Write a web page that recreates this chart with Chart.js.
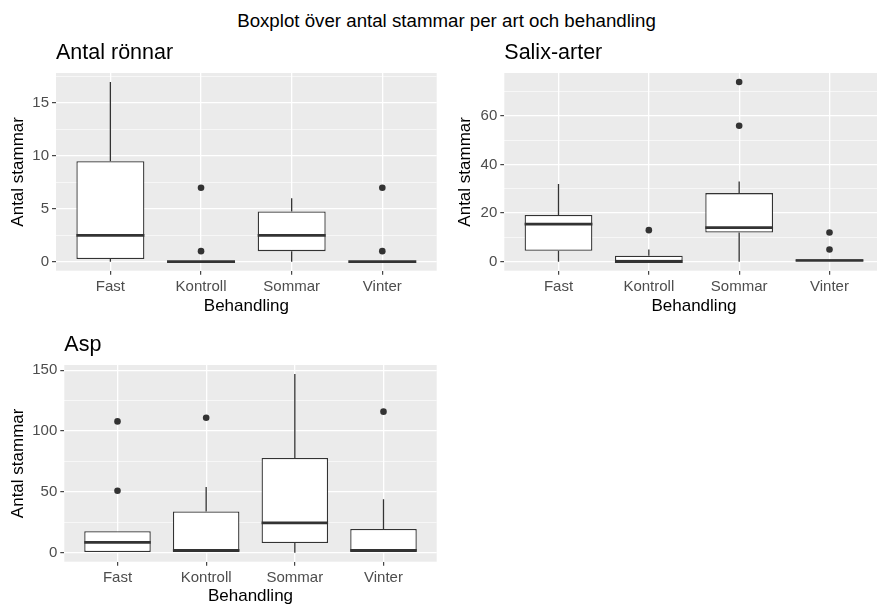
<!DOCTYPE html>
<html lang="sv">
<head>
<meta charset="utf-8">
<title>Boxplot över antal stammar per art och behandling</title>
<script src="https://cdn.jsdelivr.net/npm/chart.js"></script>
<style>
  html, body { margin: 0; padding: 0; background: #fff; width: 877px; height: 608px; overflow: hidden; position: relative;
    font-family: "Liberation Sans", Arial, sans-serif; }
  #mainTitle { position: absolute; left: 0; width: 893px; top: 11px; text-align: center; font-size: 18.7px; line-height: 20px; color: #000; }
  .panel { position: absolute; }
</style>
</head>
<body>
<div id="mainTitle">Boxplot över antal stammar per art och behandling</div>
<canvas id="ronnChart" class="panel" style="left:0;top:36px" width="440" height="281"></canvas>
<canvas id="salixChart" class="panel" style="left:447px;top:36px" width="440" height="281"></canvas>
<canvas id="aspChart" class="panel" style="left:0;top:328px" width="440" height="279"></canvas>

<script>
  // Behandlingar (x-axeln)
  const categories = ['Fast', 'Kontroll', 'Sommar', 'Vinter'];

  // Antal rönnar: nedre morrhår, Q1, median, Q3, övre morrhår, avvikare
  const ronnLow  = [0, 0, 0, 0];
  const ronnQ1   = [0.25, 0, 1, 0];
  const ronnMed  = [2.5, 0, 2.5, 0];
  const ronnQ3   = [9.5, 0, 4.75, 0];
  const ronnHigh = [17, 0, 6, 0];
  const ronnOutCat = [2, 2, 4, 4];
  const ronnOutVal = [7, 1, 7, 1];

  // Salix-arter
  const salixLow  = [0, 0, 0, 0];
  const salixQ1   = [4.5, 0, 12, 0];
  const salixMed  = [15.5, 0, 14, 0.5];
  const salixQ3   = [19.25, 2.5, 28.25, 1];
  const salixHigh = [32, 5, 33, 1];
  const salixOutCat = [2, 3, 3, 4, 4];
  const salixOutVal = [13, 56, 74, 12, 5];

  // Asp
  const aspLow  = [0, 0, 0, 0];
  const aspQ1   = [0, 0, 8, 0];
  const aspMed  = [8.5, 2, 24.5, 2];
  const aspQ3   = [17.75, 34, 78, 19.5];
  const aspHigh = [17.75, 54, 147, 44];
  const aspOutCat = [1, 1, 2, 4];
  const aspOutVal = [108, 51, 111, 116];

  const INK = '#333333';
  const TICK_TEXT = '#4D4D4D';

  // draws panel background, whiskers and medians
  const boxExtras = {
    id: 'boxExtras',
    beforeDraw(chart) {
      const { ctx, chartArea: a } = chart;
      ctx.save();
      ctx.fillStyle = '#EBEBEB';
      ctx.fillRect(a.left, a.top, a.width, a.height);
      ctx.restore();
    },
    beforeDatasetsDraw(chart, args, opts) {
      const { ctx, scales: { x, y } } = chart;
      ctx.save();
      ctx.strokeStyle = INK;
      ctx.lineWidth = 1.3;
      opts.q1.forEach((q1, i) => {
        const px = x.getPixelForValue(i + 1);
        ctx.beginPath();
        ctx.moveTo(px, y.getPixelForValue(opts.q3[i]));
        ctx.lineTo(px, y.getPixelForValue(opts.high[i]));
        ctx.moveTo(px, y.getPixelForValue(q1));
        ctx.lineTo(px, y.getPixelForValue(opts.low[i]));
        ctx.stroke();
      });
      ctx.restore();
    },
    afterDatasetsDraw(chart, args, opts) {
      const { ctx, scales: { y } } = chart;
      const bars = chart.getDatasetMeta(1).data;
      ctx.save();
      ctx.strokeStyle = INK;
      ctx.lineWidth = 2.7;
      opts.med.forEach((m, i) => {
        const b = bars[i];
        const py = y.getPixelForValue(m);
        ctx.beginPath();
        ctx.moveTo(b.x - b.width / 2, py);
        ctx.lineTo(b.x + b.width / 2, py);
        ctx.stroke();
      });
      ctx.restore();
    }
  };

  function makePanel(id, title, low, q1, med, q3, high, outCat, outVal, step, yWidth, xHeight, rightPad) {
    const all = low.concat(high, outVal);
    const lo = Math.min(...all), hi = Math.max(...all);
    const pad = (hi - lo) * 0.05;
    const half = step / 2;
    const isMajor = v => Math.abs(v / step - Math.round(v / step)) < 1e-6;

    new Chart(document.getElementById(id), {
      type: 'bar',
      data: {
        datasets: [
          {
            type: 'line',
            data: outCat.map((c, i) => ({ x: c, y: outVal[i] })),
            showLine: false,
            pointRadius: 3.3,
            pointHoverRadius: 3.3,
            pointBackgroundColor: INK,
            pointBorderWidth: 0
          },
          {
            type: 'bar',
            data: categories.map((c, i) => ({ x: i + 1, y: [q1[i], q3[i]] })),
            backgroundColor: '#ffffff',
            borderColor: INK,
            borderWidth: 1.3,
            borderSkipped: false,
            barPercentage: 0.75,
            categoryPercentage: 1
          }
        ]
      },
      options: {
        responsive: false,
        animation: false,
        devicePixelRatio: 1,
        layout: { padding: { left: 8, right: rightPad, top: 0, bottom: 0 } },
        plugins: {
          legend: { display: false },
          tooltip: { enabled: false },
          title: {
            display: true, text: title, align: 'start', fullSize: false, color: '#000',
            font: { size: 21.5, weight: 'normal' }, padding: { top: 4, bottom: 7.2 }
          },
          boxExtras: { low, q1, med, q3, high }
        },
        scales: {
          x: {
            type: 'linear', min: 0.4, max: 4.6, offset: false,
            afterBuildTicks: s => { s.ticks = categories.map((c, i) => ({ value: i + 1 })); },
            afterFit: s => { s.height = xHeight; },
            ticks: { callback: v => categories[v - 1] ?? '', color: TICK_TEXT, font: { size: 15 }, padding: 3, autoSkip: false, maxRotation: 0 },
            grid: { offset: false, color: '#ffffff', lineWidth: 1.3, tickColor: INK, tickLength: 4, tickWidth: 1.1 },
            border: { display: false },
            title: { display: true, text: 'Behandling', color: '#000', font: { size: 17 }, padding: 0 }
          },
          y: {
            min: lo - pad, max: hi + pad,
            afterBuildTicks: s => {
              const t = [];
              for (let v = Math.ceil(s.min / half) * half; v <= s.max; v += half) t.push({ value: +v.toFixed(6) });
              s.ticks = t;
            },
            afterFit: s => { s.width = yWidth; },
            ticks: { callback: v => isMajor(v) ? String(v) : '', color: TICK_TEXT, font: { size: 15 }, padding: 3, autoSkip: false },
            grid: {
              color: '#ffffff',
              lineWidth: c => (c.tick && !isMajor(c.tick.value)) ? 0.6 : 1.3,
              tickColor: c => (c.tick && !isMajor(c.tick.value)) ? 'rgba(0,0,0,0)' : INK,
              tickLength: 4, tickWidth: 1.1
            },
            border: { display: false },
            title: { display: true, text: 'Antal stammar', color: '#000', font: { size: 17 }, padding: 0 }
          }
        }
      },
      plugins: [boxExtras]
    });
  }

  Chart.defaults.font.family = '"Liberation Sans", Arial, sans-serif';

  makePanel('ronnChart', 'Antal rönnar', ronnLow, ronnQ1, ronnMed, ronnQ3, ronnHigh, ronnOutCat, ronnOutVal, 5, 48, 46.3, 2);
  makePanel('salixChart', 'Salix-arter', salixLow, salixQ1, salixMed, salixQ3, salixHigh, salixOutCat, salixOutVal, 20, 49.3, 46.3, 0);
  makePanel('aspChart', 'Asp', aspLow, aspQ1, aspMed, aspQ3, aspHigh, aspOutCat, aspOutVal, 50, 56.3, 45.3, 2.3);
</script>
</body>
</html>
